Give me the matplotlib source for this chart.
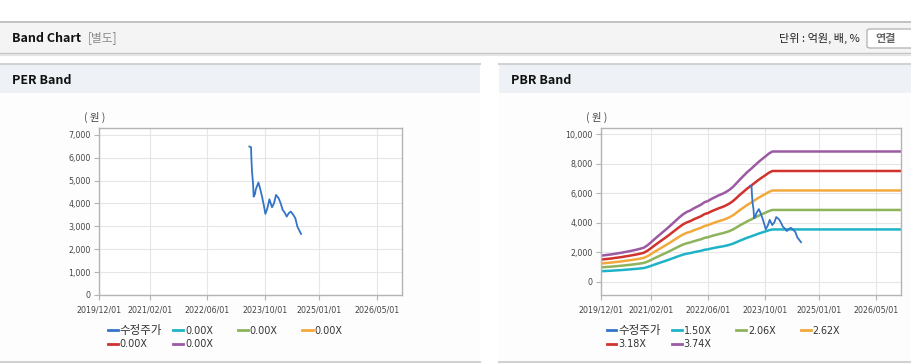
import pandas as pd
import matplotlib.pyplot as plt
from matplotlib.patches import Rectangle, FancyBboxPatch
from matplotlib.lines import Line2D

plt.rcParams['font.family'] = ['DejaVu Sans', 'Noto Sans CJK KR']

# ---- data ----
band_dates = pd.date_range('2019-12-01', '2026-12-01', freq='MS')
bps = [
    471, 478, 487, 494, 506, 515, 527, 540, 552, 566, 580, 597,
    616, 660, 716, 770, 826, 880, 935, 990, 1050, 1110, 1168, 1222,
    1262, 1290, 1330, 1360, 1393, 1438, 1462, 1500, 1532, 1565, 1590, 1625,
    1665, 1720, 1790, 1855, 1920, 1985, 2040, 2100, 2160, 2215, 2265, 2320,
    2357, 2357, 2357, 2357, 2357, 2357, 2357, 2357, 2357, 2357, 2357, 2357,
    2357, 2357, 2357, 2357, 2357, 2357, 2357, 2357, 2357, 2357, 2357, 2357,
    2357, 2357, 2357, 2357, 2357, 2357, 2357, 2357, 2357, 2357, 2357, 2357,
    2357,
]
pbr_multiples = [1.50, 2.06, 2.62, 3.18, 3.74]
pbr_labels = ['1.50X', '2.06X', '2.62X', '3.18X', '3.74X']
per_labels = ['0.00X', '0.00X', '0.00X', '0.00X', '0.00X']

price_dates = pd.to_datetime([
    '2023-05-23', '2023-06-06', '2023-06-09', '2023-06-14', '2023-06-23',
    '2023-06-28', '2023-07-10', '2023-07-15', '2023-08-07', '2023-08-21',
    '2023-09-07', '2023-09-24', '2023-10-05', '2023-10-22', '2023-11-08',
    '2023-11-30', '2023-12-17', '2024-01-03', '2024-01-25', '2024-02-11',
    '2024-02-28', '2024-03-16', '2024-04-02', '2024-04-19', '2024-05-06',
    '2024-05-28', '2024-06-14', '2024-07-01', '2024-07-18', '2024-08-01',
])
price = [
    6490, 6460, 5980, 5400, 4885, 4300, 4420, 4600, 4915, 4670,
    4300, 3865, 3544, 3790, 4185, 3835, 4010, 4375, 4230, 4010,
    3720, 3600, 3427, 3573, 3646, 3500, 3354, 2990, 2815, 2670,
]

xtick_dates = pd.to_datetime(['2019-12-01', '2021-02-01', '2022-06-01',
                              '2023-10-01', '2025-01-01', '2026-05-01'])
xtick_labels = ['2019/12/01', '2021/02/01', '2022/06/01',
                '2023/10/01', '2025/01/01', '2026/05/01']

price_color = '#3474c8'
band_colors = ['#1fb3c8', '#8db35b', '#f2a93b', '#d2322d', '#9b5aa3']

W, H = 912, 364
fig = plt.figure(figsize=(W / 100, H / 100), dpi=100)
fig.patch.set_facecolor('white')


def fx(x):
    return x / W


def fy(y):
    return 1 - y / H


def rect(x0, y0, x1, y1, color, z=0):
    fig.add_artist(Rectangle((fx(x0), fy(y1)), fx(x1) - fx(x0), fy(y0) - fy(y1),
                             transform=fig.transFigure, facecolor=color,
                             edgecolor='none', zorder=z))


def hline(x0, x1, y, color, lw=1.0):
    fig.add_artist(Line2D([fx(x0), fx(x1)], [fy(y), fy(y)], transform=fig.transFigure,
                          color=color, lw=lw, zorder=1))


kfont = ['Noto Sans CJK KR', 'DejaVu Sans']

# ---- top header bar ----
rect(0, 22, W, 53, '#f4f4f4')
hline(0, W, 22, '#b8b8b8', 1.2)
hline(0, W, 53, '#c4c4c4', 1.0)
hline(0, W, 54.5, '#e4e4e4', 1.5)
fig.text(fx(12), fy(38), 'Band Chart', family=kfont, weight='bold', fontsize=9,
         va='center', ha='left', color='#111111')
fig.text(fx(88), fy(38), '[별도]', family=kfont, fontsize=8.5, va='center',
         ha='left', color='#8a8a8a')
fig.text(fx(860), fy(38), '단위 : 억원, 배, %', family=kfont, fontsize=8,
         va='center', ha='right', color='#222222')
fig.add_artist(FancyBboxPatch((fx(867), fy(48)), fx(60), fy(0) - fy(19),
                              boxstyle='round,pad=0,rounding_size=0.004',
                              transform=fig.transFigure, facecolor='white',
                              edgecolor='#b0b0b0', lw=0.9, zorder=2))
fig.text(fx(886), fy(38.5), '연결', family=kfont, weight='bold', fontsize=8,
         va='center', ha='center', color='#666666', zorder=3)

# ---- panel frames ----
for (px0, px1, title) in [(0, 480, 'PER Band'), (499, W, 'PBR Band')]:
    rect(px0, 64, px1, 93, '#eef2f7')
    rect(px0, 93, px1, 361, '#fdfdfd')
    hline(px0, px1, 64, '#d2d2d2', 1.5)
    hline(px0, px1, 362, '#d2d2d2', 1.5)
    fig.text(fx(px0 + 12), fy(80), title, family=kfont, weight='bold', fontsize=9,
             va='center', ha='left', color='#111111')


def style_axes(ax, ylim, yticks):
    ax.set_facecolor('white')
    ax.set_xlim(pd.Timestamp('2019-12-01'), pd.Timestamp('2026-12-01'))
    ax.set_ylim(*ylim)
    ax.set_xticks(xtick_dates)
    ax.set_xticklabels(xtick_labels)
    ax.set_yticks(yticks)
    ax.set_yticklabels([f'{v:,}' for v in yticks])
    ax.grid(True, color='#e6e6e6', lw=0.8)
    ax.set_axisbelow(True)
    for s in ax.spines.values():
        s.set_color('#b4b4b4')
        s.set_linewidth(1.0)
    ax.tick_params(axis='both', colors='#b4b4b4', labelcolor='#444444',
                   labelsize=5.7, length=3.5, width=0.8, pad=2.5)
    ax.tick_params(axis='x', pad=4)


def legend(x_start, labels):
    cols = [0, 65.5, 130, 194.5]
    items = [('수정주가', price_color)] + list(zip(labels, band_colors))
    for i, (lab, col) in enumerate(items):
        r, c = divmod(i, 4)
        x = x_start + cols[c]
        y = 330 + r * 13.5
        fig.add_artist(Line2D([fx(x), fx(x + 10)], [fy(y), fy(y)],
                              transform=fig.transFigure, color=col, lw=2.0))
        fs = 8.3 if lab == '수정주가' else 6.9
        fig.text(fx(x + 11.5), fy(y + 0.5), lab, family=['DejaVu Sans', 'Noto Sans CJK KR'],
                 fontsize=fs, va='center', ha='left', color='#333333')


# ---- PER band ----
ax1 = fig.add_axes([fx(99), fy(295), fx(402) - fx(99), fy(128) - fy(295)])
ax1.plot(price_dates, price, color=price_color, lw=1.3, zorder=3)
style_axes(ax1, (0, 7300), list(range(0, 7001, 1000)))
fig.text(fx(95), fy(117), '( 원 )', family=kfont, fontsize=7.5, va='center',
         ha='center', color='#444444')
legend(108, per_labels)

# ---- PBR band ----
ax2 = fig.add_axes([fx(601), fy(295), fx(901) - fx(601), fy(128) - fy(295)])
for m, col in zip(pbr_multiples, band_colors):
    ax2.plot(band_dates, [b * m for b in bps], color=col, lw=1.8, zorder=2)
ax2.plot(price_dates, price, color=price_color, lw=1.3, zorder=3)
style_axes(ax2, (-905, 10407), list(range(0, 10001, 2000)))
fig.text(fx(597), fy(117), '( 원 )', family=kfont, fontsize=7.5, va='center',
         ha='center', color='#444444')
legend(606.5, pbr_labels)

plt.savefig('out.png', dpi=100)
